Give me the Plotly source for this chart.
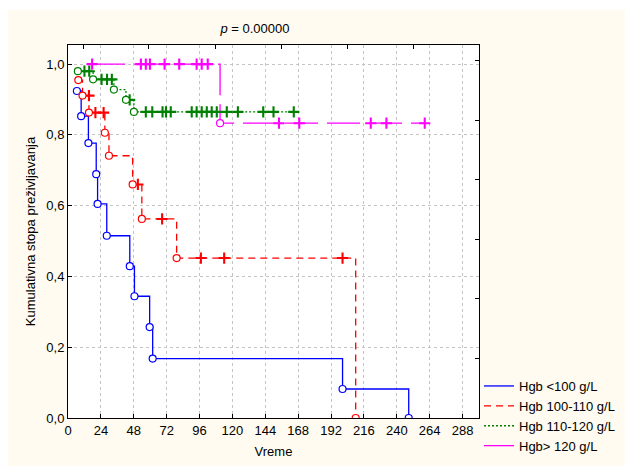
import plotly.graph_objects as go

# ---------------- data ----------------
group_names = ["Hgb <100 g/L", "Hgb 100-110 g/L", "Hgb 110-120 g/L", "Hgb> 120 g/L"]

# events (complete observations): time, survival after the event
blue_event_t = [6.5, 9.6, 14.9, 20.6, 21.6, 28.3, 45.1, 48.5, 59.6, 61.8, 200.4, 248.7]
blue_event_s = [0.924, 0.853, 0.777, 0.689, 0.605, 0.515, 0.429, 0.344, 0.257, 0.168, 0.082, 0.0]
blue_cens_t = []
blue_cens_s = []

red_event_t = [7.5, 10.6, 15.3, 26.9, 29.9, 47.2, 53.9, 79.3, 210.0]
red_event_s = [0.955, 0.911, 0.863, 0.806, 0.741, 0.660, 0.5625, 0.452, 0.0]
red_cens_t = [15.3, 20.0, 26.0, 51.0, 68.7, 97.0, 114.0, 200.4]
red_cens_s = [0.911, 0.863, 0.863, 0.660, 0.5625, 0.452, 0.452, 0.452]

green_event_t = [7.2, 18.3, 33.5, 42.3, 48.1]
green_event_s = [0.980, 0.957, 0.928, 0.899, 0.865]
green_cens_t = [12.0, 15.5, 24.5, 28.5, 32.0, 45.0, 56.8, 61.5, 69.0, 71.5, 75.0, 90.3,
                93.9, 97.6, 101.3, 104.9, 108.6, 115.9, 124.0, 142.5, 150.0, 164.8]
green_cens_s = [0.980, 0.980, 0.957, 0.957, 0.957, 0.899] + [0.865] * 16

pink_event_t = [111.0]
pink_event_s = [0.833]
pink_cens_t = [17.6, 53.2, 56.8, 59.8, 70.5, 81.2, 93.9, 97.6, 102.0,
               154.0, 168.8, 221.0, 232.4, 260.4]
pink_cens_s = [1.0] * 9 + [0.833] * 5

x_ticks = [0, 24, 48, 72, 96, 120, 144, 168, 192, 216, 240, 264, 288]
y_ticks = [0.0, 0.2, 0.4, 0.6, 0.8, 1.0]
y_tick_text = ["0,0", "0,2", "0,4", "0,6", "0,8", "1,0"]
top_ticks = [11, 59, 108, 156, 204, 252]
right_ticks = [0.168, 0.337, 0.505, 0.673, 0.841, 1.01]

# ---------------- styles ----------------
colors = ["#0000FF", "#FF0000", "#008000", "#FF00FF"]
dashes = ["solid", "7px,5px", "2px,2px", "33px,9px"]
FONT = "Liberation Sans, Arial, sans-serif"
W, H = 625, 466
L, R, T, B = 68, 146, 45, 48
PW, PH = W - L - R, H - T - B

groups = [
    (blue_event_t, blue_event_s, blue_cens_t, blue_cens_s),
    (red_event_t, red_event_s, red_cens_t, red_cens_s),
    (green_event_t, green_event_s, green_cens_t, green_cens_s),
    (pink_event_t, pink_event_s, pink_cens_t, pink_cens_s),
]


def km_path(et, es, ct, cs):
    obs = sorted([(t, s, 1) for t, s in zip(et, es)] + [(t, s, 0) for t, s in zip(ct, cs)],
                 key=lambda o: (o[0], -o[1]))
    first = obs[0]
    xs = [first[0]]
    ys = [first[1]]
    for t, s in zip(et, es):
        if t == first[0] and s == first[1]:
            continue
        xs.append(t)
        ys.append(s)
    last_t = max(o[0] for o in obs)
    if last_t > xs[-1]:
        xs.append(last_t)
        ys.append(ys[-1])
    return xs, ys


fig = go.Figure()

for i, (et, es, ct, cs) in enumerate(groups):
    xs, ys = km_path(et, es, ct, cs)
    fig.add_trace(go.Scatter(
        x=xs, y=ys, mode="lines", line_shape="hv", name=group_names[i],
        line=dict(color=colors[i], width=1.3, dash=dashes[i]), showlegend=True,
        legendrank=i + 1))

for i, (et, es, ct, cs) in enumerate(groups):
    if ct:
        fig.add_trace(go.Scatter(
            x=ct, y=cs, mode="markers", showlegend=False, hoverinfo="skip",
            marker=dict(symbol="cross-thin", size=8, color=colors[i],
                        line=dict(color=colors[i], width=2.1))))
    fig.add_trace(go.Scatter(
        x=et, y=es, mode="markers", showlegend=False, hoverinfo="skip",
        marker=dict(symbol="circle", size=7, color="white",
                    line=dict(color=colors[i], width=1.2))))

# invisible trace to activate the mirror axes
fig.add_trace(go.Scatter(x=[None], y=[None], xaxis="x2", yaxis="y2",
                         showlegend=False, hoverinfo="skip"))

fig.update_layout(
    width=W, height=H,
    margin=dict(l=L, r=R, t=T, b=B, autoexpand=False),
    paper_bgcolor="#FFFBF0",
    plot_bgcolor="white",
    font=dict(family=FONT, size=13, color="black"),
    title=dict(text="<i>p</i> = 0.00000", x=0.455, xref="paper", xanchor="center",
               y=1 - 28 / H, yref="container", yanchor="middle",
               font=dict(family=FONT, size=13, color="black")),
    xaxis=dict(range=[0, 300], tickvals=x_ticks, ticks="inside", ticklen=4,
               tickcolor="black", showline=True, linecolor="black", linewidth=1,
               mirror=True, showgrid=True, gridcolor="#C4C4C4", griddash="dot",
               gridwidth=1, zeroline=False, automargin=False,
               title=dict(text="Vreme", standoff=10, font=dict(size=13)),
               tickfont=dict(size=13)),
    yaxis=dict(range=[0, 1.054], tickvals=y_ticks, ticktext=y_tick_text,
               ticks="inside", ticklen=4, tickcolor="black", showline=True,
               linecolor="black", linewidth=1, mirror=True, showgrid=True,
               gridcolor="#C4C4C4", griddash="dot", gridwidth=1, zeroline=False,
               automargin=False,
               title=dict(text="Kumulativna stopa preživljavanja", standoff=7,
                          font=dict(size=13)),
               tickfont=dict(size=13)),
    xaxis2=dict(range=[0, 300], overlaying="x", side="top", tickvals=top_ticks,
                ticks="inside", ticklen=4, tickcolor="black", showticklabels=False,
                showgrid=False, zeroline=False, showline=False),
    yaxis2=dict(range=[0, 1.054], overlaying="y", side="right", tickvals=right_ticks,
                ticks="inside", ticklen=4, tickcolor="black", showticklabels=False,
                showgrid=False, zeroline=False, showline=False),
    legend=dict(xref="container", yref="container", x=479 / W, xanchor="left",
                y=1 - 371 / H, yanchor="top",
                bgcolor="rgba(0,0,0,0)", font=dict(family=FONT, size=13),
                tracegroupgap=0, itemwidth=30),
    showlegend=True,
    shapes=[
        dict(type="rect", xref="paper", yref="paper", layer="below",
             x0=-L / PW, x1=(W - L) / PW, y0=(H - B - 10) / PH, y1=(H - B) / PH,
             fillcolor="white", line=dict(width=0)),
        dict(type="rect", xref="paper", yref="paper", layer="below",
             x0=-L / PW, x1=(8 - L) / PW, y0=-B / PH, y1=(H - B) / PH,
             fillcolor="white", line=dict(width=0)),
    ],
)

fig.write_html("out.html",
               config={"displayModeBar": False},
               post_script="document.body.style.margin='0';"
                           "document.documentElement.style.overflow='hidden';")
